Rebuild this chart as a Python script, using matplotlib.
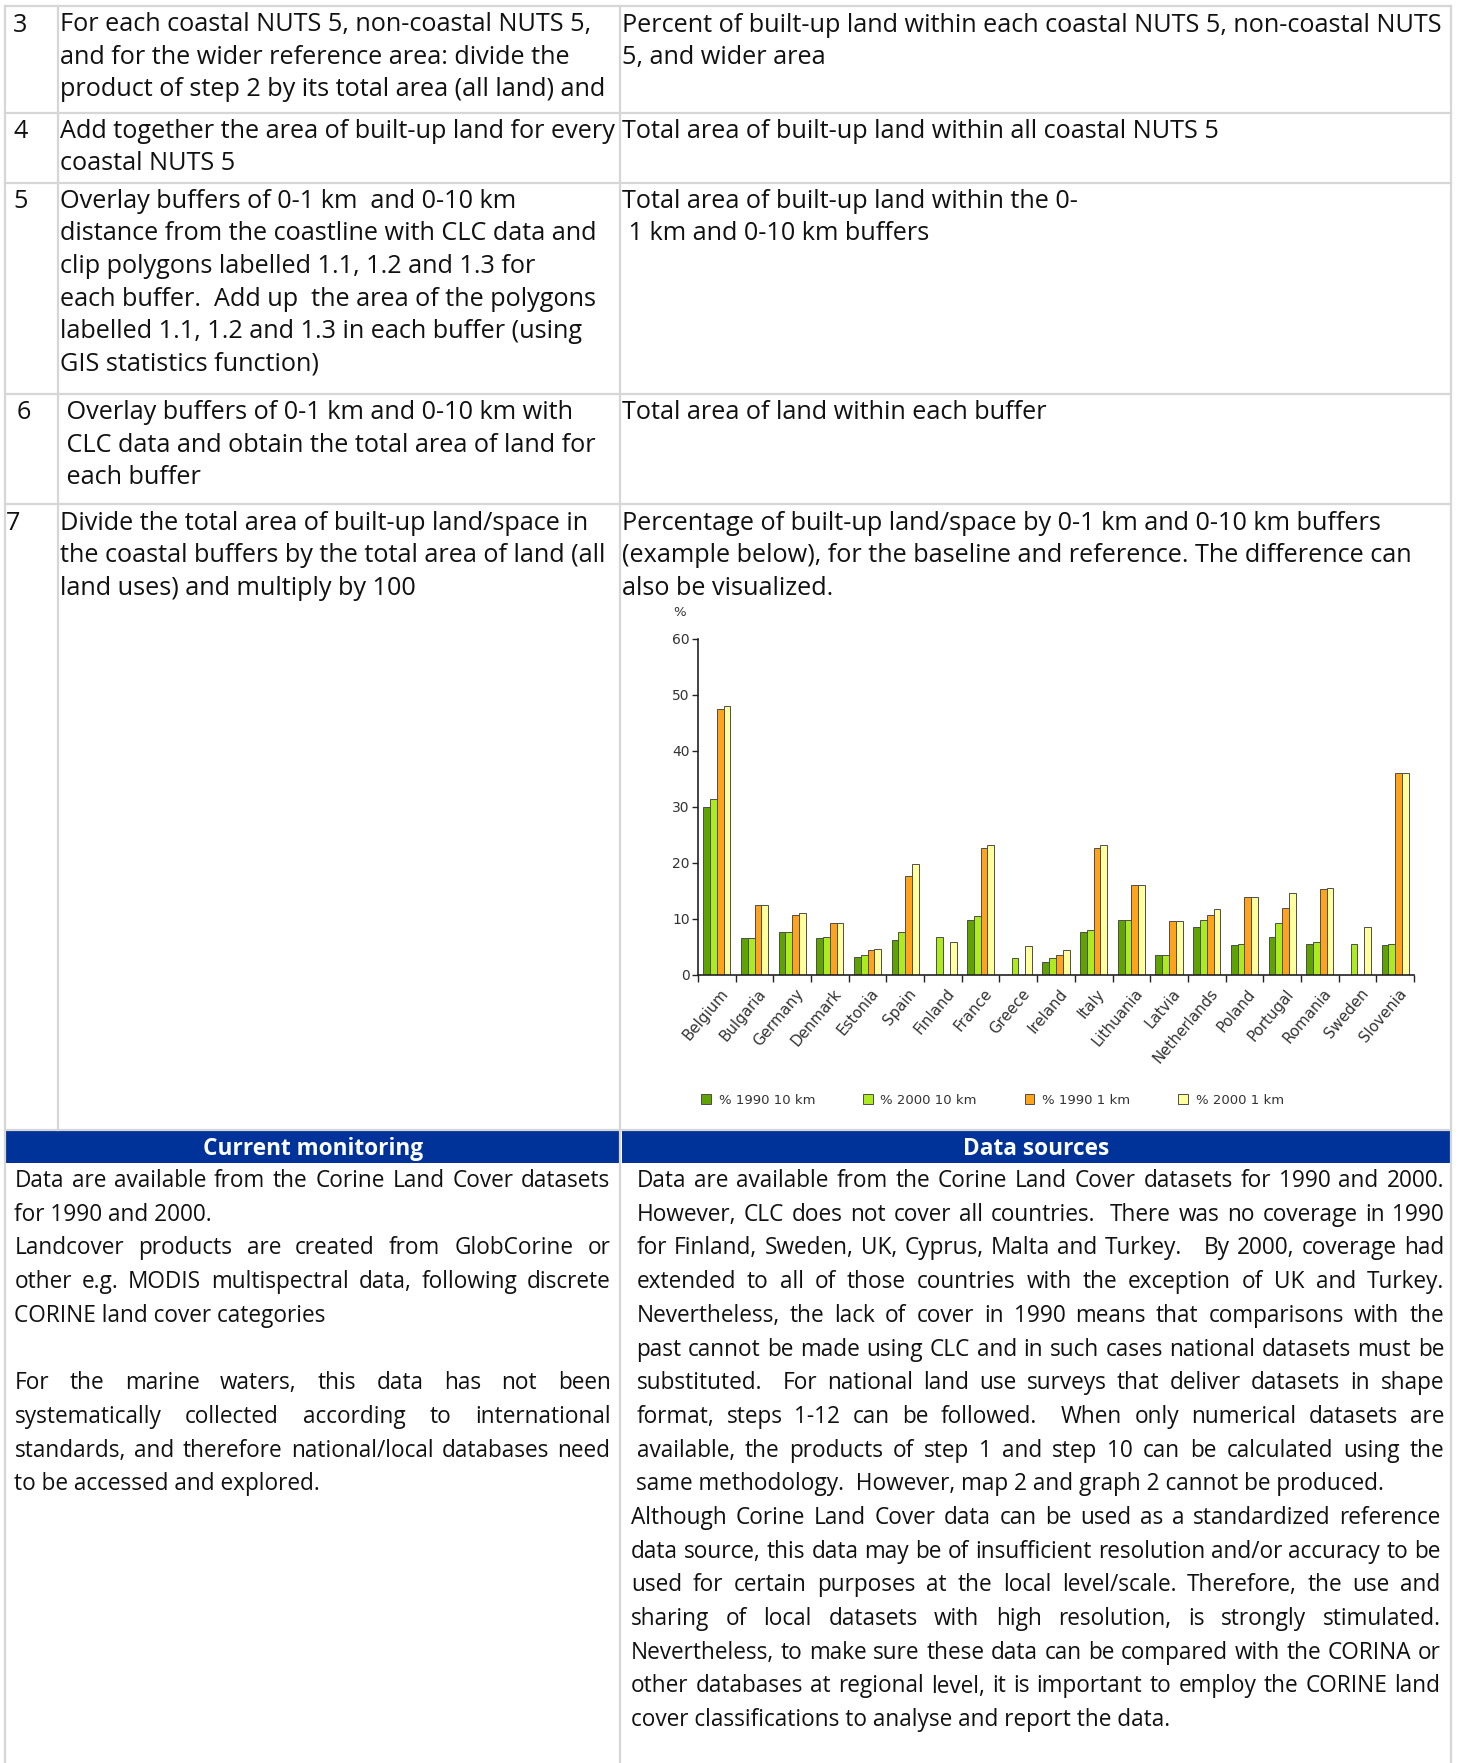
import numpy as np
import matplotlib
matplotlib.use("Agg")
import matplotlib.pyplot as plt
from matplotlib.patches import Rectangle

# chart data (% built-up land in coastal buffers)
countries = ["Belgium", "Bulgaria", "Germany", "Denmark", "Estonia", "Spain",
             "Finland", "France", "Greece", "Ireland", "Italy", "Lithuania",
             "Latvia", "Netherlands", "Poland", "Portugal", "Romania",
             "Sweden", "Slovenia"]
pct_1990_10km = [30.0, 6.6, 7.6, 6.6, 3.3, 6.3, np.nan, 9.9, np.nan, 2.4,
                 7.6, 9.9, 3.6, 8.6, 5.4, 6.8, 5.6, np.nan, 5.4]
pct_2000_10km = [31.4, 6.6, 7.7, 6.8, 3.6, 7.6, 6.8, 10.5, 3.0, 3.0,
                 8.0, 9.9, 3.6, 9.8, 5.6, 9.3, 5.9, 5.6, 5.6]
pct_1990_1km = [47.5, 12.5, 10.8, 9.2, 4.5, 17.6, np.nan, 22.7, np.nan, 3.6,
                22.7, 16.1, 9.6, 10.8, 14.0, 12.0, 15.3, np.nan, 36.0]
pct_2000_1km = [48.1, 12.5, 11.0, 9.2, 4.7, 19.8, 5.9, 23.3, 5.1, 4.5,
                23.3, 16.1, 9.6, 11.7, 14.0, 14.6, 15.5, 8.6, 36.0]
series_names = ["% 1990 10 km", "% 2000 10 km", "% 1990 1 km", "% 2000 1 km"]
series_colors = ["#5fa300", "#acec1e", "#ffa31c", "#ffff9e"]
y_ticks = [0, 10, 20, 30, 40, 50, 60]

# table text
rows_top = [
    # (number, baselines, col2 lines, col3 lines)
    ("3", [31.5, 64, 96.5],
     ["For each coastal NUTS 5, non-coastal NUTS 5,",
      "and for the wider reference area: divide the",
      "product of step 2 by its total area (all land) and"],
     ["Percent of built-up land within each coastal NUTS 5, non-coastal NUTS",
      "5, and wider area"]),
    ("4", [137.5, 170],
     ["Add together the area of built-up land for every",
      "coastal NUTS 5"],
     ["Total area of built-up land within all coastal NUTS 5"]),
    ("5", [208, 240.5, 273, 305.5, 338, 370.5],
     ["Overlay buffers of 0-1 km  and 0-10 km",
      "distance from the coastline with CLC data and",
      "clip polygons labelled 1.1, 1.2 and 1.3 for",
      "each buffer.  Add up  the area of the polygons",
      "labelled 1.1, 1.2 and 1.3 in each buffer (using",
      "GIS statistics function)"],
     ["Total area of built-up land within the 0-",
      " 1 km and 0-10 km buffers"]),
    ("6", [419, 451.5, 484],
     [" Overlay buffers of 0-1 km and 0-10 km with",
      " CLC data and obtain the total area of land for",
      " each buffer"],
     ["Total area of land within each buffer"]),
    ("7", [530, 562.5, 595],
     ["Divide the total area of built-up land/space in",
      "the coastal buffers by the total area of land (all",
      "land uses) and multiply by 100"],
     ["Percentage of built-up land/space by 0-1 km and 0-10 km buffers",
      "(example below), for the baseline and reference. The difference can",
      "also be visualized."]),
]
num_x = {"3": 13, "4": 13, "5": 13, "6": 17, "7": 6}

monitoring_lines = [
    ("Data are available from the Corine Land Cover datasets", True),
    ("for 1990 and 2000.", False),
    ("Landcover products are created from GlobCorine or", True),
    ("other e.g. MODIS multispectral data, following discrete", True),
    ("CORINE land cover categories", False),
    ("", False),
    ("For the marine waters, this data has not been", True),
    ("systematically collected according to international", True),
    ("standards, and therefore national/local databases need", True),
    ("to be accessed and explored.", False),
]
sources_lines = [
    ("Data are available from the Corine Land Cover datasets for 1990 and 2000.", True),
    ("However, CLC does not cover all countries.  There was no coverage in 1990", True),
    ("for Finland, Sweden, UK, Cyprus, Malta and Turkey.   By 2000, coverage had", True),
    ("extended to all of those countries with the exception of UK and Turkey.", True),
    ("Nevertheless, the lack of cover in 1990 means that comparisons with the", True),
    ("past cannot be made using CLC and in such cases national datasets must be", True),
    ("substituted.  For national land use surveys that deliver datasets in shape", True),
    ("format, steps 1-12 can be followed.  When only numerical datasets are", True),
    ("available, the products of step 1 and step 10 can be calculated using the", True),
    ("same methodology.  However, map 2 and graph 2 cannot be produced.", False),
    ("Although Corine Land Cover data can be used as a standardized reference", True),
    ("data source, this data may be of insufficient resolution and/or accuracy to be", True),
    ("used for certain purposes at the local level/scale. Therefore, the use and", True),
    ("sharing of local datasets with high resolution, is strongly stimulated.", True),
    ("Nevertheless, to make sure these data can be compared with the CORINA or", True),
    ("other databases at regional level, it is important to employ the CORINE land", True),
    ("cover classifications to analyse and report the data.", False),
]

W, H = 1462, 1763
fig = plt.figure(figsize=(W / 100, H / 100), dpi=100)
bg = fig.add_axes([0, 0, 1, 1])
bg.set_xlim(0, W)
bg.set_ylim(H, 0)
bg.axis("off")
renderer = fig.canvas.get_renderer()

FONT = "Open Sans"
GRID = "#d6d6d6"


def text_width(s, size, weight="normal"):
    t = bg.text(0, 0, s, fontsize=size, family=FONT, weight=weight)
    w = t.get_window_extent(renderer).width
    t.remove()
    return w


def fit_size(s, target):
    return 10 * target / text_width(s, 10)


size_top = fit_size("Total area of built-up land within all coastal NUTS 5", 599)
size_bot = fit_size("same methodology.  However, map 2 and graph 2 cannot be produced.", 749)


def put_line(x0, x1, y, s, size, justify):
    if not justify:
        bg.text(x0, y, s, fontsize=size, family=FONT, va="baseline", color="#111111")
        return
    # justified line: spread the words between x0 and x1, keeping double spaces wider
    words = s.split(" ")
    widths = [text_width(w, size) if w else 0 for w in words]
    real = [w for w in words if w]
    gap = (x1 - x0 - sum(widths)) / (len(words) - 1)
    x = x0
    for w, wd in zip(words, widths):
        if w:
            bg.text(x, y, w, fontsize=size, family=FONT, va="baseline", color="#111111")
        x += wd + gap


# grid lines of the table
for y in [6, 113, 183, 394, 504, 1130]:
    bg.plot([5, 1451], [y, y], color=GRID, lw=1.6)
bg.plot([5, 5], [6, H], color=GRID, lw=1.6)
bg.plot([58, 58], [6, 1130], color=GRID, lw=1.6)
bg.plot([620, 620], [6, H], color=GRID, lw=1.6)
bg.plot([1451, 1451], [6, H], color=GRID, lw=1.6)

# top rows
for num, bases, col2, col3 in rows_top:
    bg.text(num_x[num], bases[0], num, fontsize=size_top, family=FONT,
            va="baseline", color="#111111")
    for y, s in zip(bases, col2):
        put_line(59.5, 618, y, s, size_top, False)
    for y, s in zip(bases, col3):
        put_line(622, 1448, y, s, size_top, False)

# blue header band
bg.add_patch(Rectangle((6, 1131), 613, 32, color="#003399", lw=0))
bg.add_patch(Rectangle((622, 1131), 828, 32, color="#003399", lw=0))
bg.text(313, 1155, "Current monitoring", fontsize=size_bot, family=FONT,
        weight="bold", color="white", ha="center", va="baseline")
bg.text(1036, 1155, "Data sources", fontsize=size_bot, family=FONT,
        weight="bold", color="white", ha="center", va="baseline")

# lower text blocks
for i, (s, j) in enumerate(monitoring_lines):
    if s:
        put_line(14.5, 610.5, 1187 + i * 33.7, s, size_bot, j)
for i, (s, j) in enumerate(sources_lines):
    x0, x1 = (636.5, 1444) if i < 10 else (631, 1440.5)
    put_line(x0, x1, 1187 + i * 33.7, s, size_bot, j)

# embedded bar chart
ax = fig.add_axes([698 / W, 1 - 975 / H, (1414 - 698) / W, (975 - 639) / H])
x = np.arange(len(countries))
bw = 0.18
for k, (vals, name, col) in enumerate(zip(
        [pct_1990_10km, pct_2000_10km, pct_1990_1km, pct_2000_1km],
        series_names, series_colors)):
    ax.bar(x + (k - 1.5) * bw, vals, bw, color=col, edgecolor="#4d4d4d",
           linewidth=0.7, label=name)
ax.set_xlim(-0.5, len(countries) - 0.5)
ax.set_ylim(0, 60)
ax.set_yticks(y_ticks)
ax.tick_params(axis="y", labelsize=10, length=4, width=1, colors="#222222",
               labelcolor="#333333", pad=2)
ax.set_xticks(np.arange(len(countries) + 1) - 0.5)
ax.set_xticklabels([])
ax.tick_params(axis="x", length=5, width=1, colors="#222222")
for i, c in enumerate(countries):
    ax.annotate(c, (i, 0), xytext=(2, -8), textcoords="offset points",
                rotation=50, ha="right", va="top", fontsize=10.8,
                color="#333333", rotation_mode="anchor")
for side in ["top", "right"]:
    ax.spines[side].set_visible(False)
for side in ["left", "bottom"]:
    ax.spines[side].set_color("#222222")
    ax.spines[side].set_linewidth(1.2)
ax.patch.set_alpha(0)
bg.text(680, 613, "%", fontsize=9.5, color="#333333", ha="center", va="center")
ax.legend(loc="center left", bbox_to_anchor=(689 / W, 1 - 1100 / H),
          bbox_transform=fig.transFigure, ncol=4, frameon=False,
          handlelength=0.75, handleheight=0.75, handletextpad=0.6,
          columnspacing=3.6, fontsize=9.5, labelcolor="#333333")

fig.savefig("out.png", dpi=100)
